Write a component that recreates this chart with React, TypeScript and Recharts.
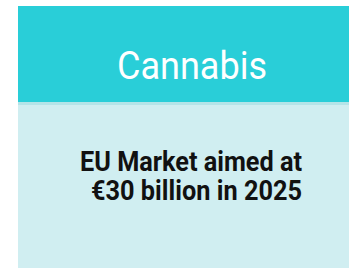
import React from 'react';
import { BarChart, Customized } from "recharts";

const title = "Cannabis";
const bodyLines = ["EU Market aimed at", "€30 billion in 2025"];
const colors = ["#29ced8", "#d0eef1"];

const Card = () => (
  <g>
    <rect x={18} y={6} width={331} height={262} fill={colors[1]} />
    <rect x={18} y={102} width={331} height={3} fill="#b4e4e8" />
    <rect x={18} y={6} width={331} height={96} fill={colors[0]} />
    <text
      x={117}
      y={79}
      fill="#ffffff"
      fontSize={38}
      fontFamily="Roboto, 'Liberation Sans Narrow', sans-serif"
      textLength={150}
      lengthAdjust="spacingAndGlyphs"
    >
      {title}
    </text>
    <text
      x={80}
      y={171}
      fill="#111111"
      fontSize={27}
      fontWeight="bold"
      fontFamily="Roboto, 'Liberation Sans Narrow', sans-serif"
      textLength={222}
      lengthAdjust="spacingAndGlyphs"
    >
      {bodyLines[0]}
    </text>
    <text
      x={91}
      y={200}
      fill="#111111"
      fontSize={27}
      fontWeight="bold"
      fontFamily="Roboto, 'Liberation Sans Narrow', sans-serif"
      textLength={211}
      lengthAdjust="spacingAndGlyphs"
    >
      {bodyLines[1]}
    </text>
  </g>
);

export default function App() {
  return (
    <div style={{ position: "absolute", left: 0, top: 0 }}>
      <BarChart width={349} height={268} data={[]} margin={{ top: 0, right: 0, left: 0, bottom: 0 }}>
        <Customized component={Card} />
      </BarChart>
    </div>
  );
}
